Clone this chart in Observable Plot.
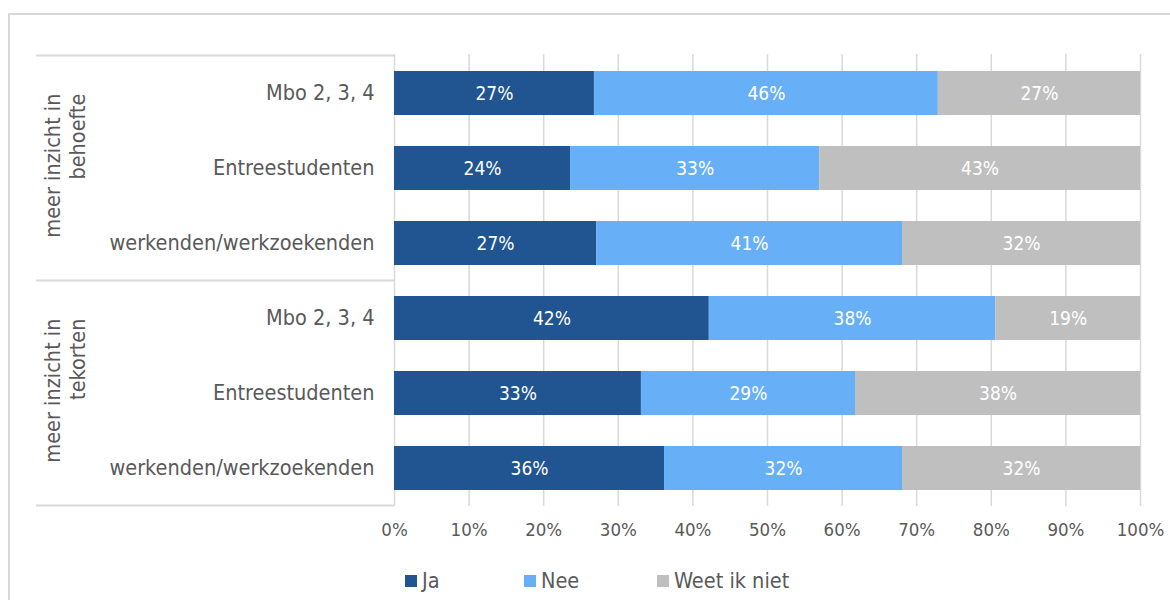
<!DOCTYPE html>
<html>
<head>
<meta charset="utf-8">
<script src="https://cdn.jsdelivr.net/npm/d3@7"></script>
<script src="https://cdn.jsdelivr.net/npm/@observablehq/plot@0.6"></script>
<style>
  html, body { margin: 0; padding: 0; background: #fff; }
  #wrap { position: relative; width: 1170px; height: 600px; overflow: hidden; font-family: "DejaVu Sans Condensed", "DejaVu Sans", sans-serif; color: #595959; }
  #frame { position: absolute; left: 8px; top: 13px; width: 1200px; height: 700px; border-left: 2px solid #d9d9d9; border-top: 2px solid #d9d9d9; box-sizing: border-box; }
  #chart { position: absolute; left: 0; top: 0; }
  #legend { position: absolute; left: 405px; top: 568px; display: flex; align-items: center; font-size: 21.5px; }
  .item { display: flex; align-items: center; }
  .sw { width: 12px; height: 12px; margin-right: 5px; }
</style>
</head>
<body>
<div id="wrap">
  <div id="frame"></div>
  <div id="chart"></div>
  <div id="legend"></div>
</div>
<script>
const groups = ["meer inzicht in\nbehoefte", "meer inzicht in\ntekorten"];
const categories = ["Mbo 2, 3, 4", "Entreestudenten", "werkenden/werkzoekenden"];
const answers = ["Ja", "Nee", "Weet ik niet"];
const colors = ["#215591", "#67aff6", "#bfbfbf"];
// rows: behoefte (3), then tekorten (3)
const jaValues   = [26.8, 23.6, 27.1, 42.2, 33.1, 36.2];
const neeValues  = [46.1, 33.4, 41.0, 38.4, 28.7, 31.9];
const weetValues = [27.1, 43.0, 31.9, 19.4, 38.2, 31.9];
const xTicks = [0, 10, 20, 30, 40, 50, 60, 70, 80, 90, 100];

const keys = [];
groups.forEach((g, gi) => categories.forEach(c => keys.push(gi + "|" + c)));
const seriesValues = [jaValues, neeValues, weetValues];
const table = [];
keys.forEach((k, i) => answers.forEach((a, j) => table.push({key: k, answer: a, value: seriesValues[j][i]})));
const groupTable = groups.map((g, gi) => ({label: g, key: keys[gi * categories.length]}));

const chart = Plot.plot({
  width: 1170,
  height: 560,
  marginLeft: 394,
  marginRight: 30,
  marginTop: 54,
  marginBottom: 54,
  style: {fontFamily: '"DejaVu Sans Condensed", "DejaVu Sans", sans-serif', fontSize: "18px", color: "#595959", background: "transparent", overflow: "visible"},
  x: {domain: [0, 100], ticks: xTicks, tickFormat: d => d + "%", label: null},
  y: {domain: keys, paddingInner: 0.416, paddingOuter: 0.208, label: null},
  color: {domain: answers, range: colors},
  marks: [
    Plot.gridX(xTicks, {stroke: "#d9d9d9", strokeOpacity: 1, strokeWidth: 1.5}),
    Plot.barX(table, Plot.stackX({x: "value", y: "key", fill: "answer"})),
    Plot.text(table, Plot.stackX({x: "value", y: "key", text: d => Math.round(d.value) + "%", fill: "white", fontSize: 19})),
    Plot.axisX(xTicks, {tickSize: 0, tickPadding: 16, fontSize: 18.5, label: null, tickFormat: d => d + "%"}),
    Plot.axisY({tickSize: 0, tickPadding: 20, fontSize: 21.5, label: null, tickFormat: k => k.split("|")[1]}),
    Plot.text(groupTable, {y: "key", text: "label", rotate: -90, textAnchor: "end", lineAnchor: "middle", lineHeight: 1.18, frameAnchor: "left", dx: -330, fontSize: 21.5, fill: "#595959"})
  ]
});

// group separators drawn from the plot's own scales
const ys = chart.scale("y");
const xs = chart.scale("x");
const step = ys.step, bw = ys.bandwidth, half = (step - bw) / 2;
const x0 = xs.apply(0);
const boundaries = [];
groups.forEach((g, gi) => {
  boundaries.push(ys.apply(keys[gi * categories.length]) - half);
});
boundaries.push(ys.apply(keys[keys.length - 1]) + bw + half);
const sel = d3.select(chart);
sel.append("g").selectAll("line").data(boundaries).join("line")
  .attr("x1", x0 - 358).attr("x2", x0)
  .attr("y1", d => d).attr("y2", d => d)
  .attr("stroke", "#d9d9d9").attr("stroke-width", 2);

document.getElementById("chart").appendChild(chart);

const legendWidths = [119, 133, 150];
const legend = d3.select("#legend");
answers.forEach((a, i) => {
  const it = legend.append("div").attr("class", "item").style("width", legendWidths[i] + "px");
  it.append("div").attr("class", "sw").style("background", colors[i]);
  it.append("span").text(a);
});
</script>
</body>
</html>
